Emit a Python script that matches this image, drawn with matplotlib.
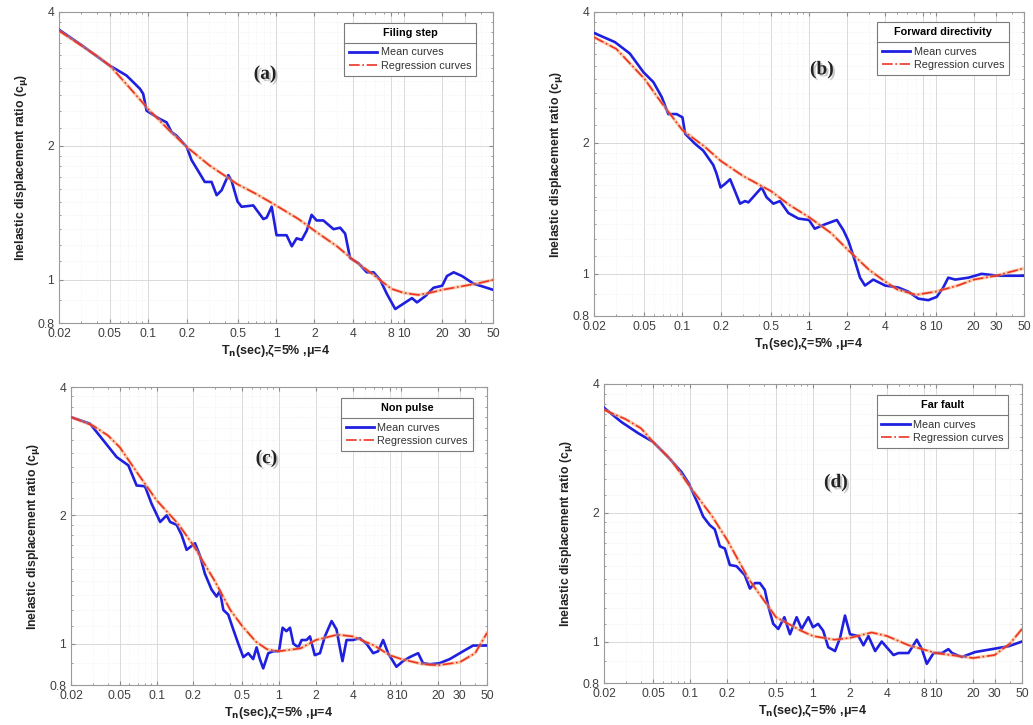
import matplotlib
matplotlib.use("Agg")
import matplotlib.pyplot as plt
import matplotlib.ticker as mticker
import matplotlib.patheffects as pe
from matplotlib.lines import Line2D

plt.rcParams['font.family'] = ['Liberation Sans', 'DejaVu Sans']
plt.rcParams['mathtext.fontset'] = 'dejavusans'

# ---------------- data ----------------
# (a) Filing step
Ta_mean = [0.02, 0.03, 0.05, 0.0675, 0.0859, 0.0912, 0.097, 0.123, 0.139, 0.152, 0.166, 0.2, 0.218,
           0.254, 0.277, 0.313, 0.343, 0.375, 0.423, 0.449, 0.5, 0.538, 0.664, 0.796, 0.845, 0.925,
           1.01, 1.21, 1.33, 1.45, 1.59, 1.74, 1.90, 2.08, 2.35, 2.82, 3.18, 3.48, 3.80, 4.42, 5.14,
           5.80, 6.54, 7.38, 8.58, 10.3, 11.6, 12.7, 14.8, 17.1, 20.0, 21.8, 24.6, 28.6, 35.3, 39.8, 50.0]
Ca_mean = [3.65, 3.37, 3.03, 2.88, 2.69, 2.62, 2.40, 2.30, 2.26, 2.15, 2.11, 1.99, 1.86,
           1.73, 1.66, 1.66, 1.55, 1.59, 1.72, 1.67, 1.50, 1.46, 1.47, 1.37, 1.38, 1.46,
           1.26, 1.26, 1.19, 1.24, 1.23, 1.29, 1.40, 1.36, 1.36, 1.30, 1.31, 1.27, 1.12, 1.09, 1.04,
           1.04, 1.00, 0.93, 0.86, 0.89, 0.91, 0.89, 0.92, 0.96, 0.97, 1.02, 1.04, 1.02, 0.98, 0.97, 0.95]
Ta_reg = [0.02, 0.025, 0.03, 0.04, 0.05, 0.07, 0.1, 0.15, 0.2, 0.3, 0.5, 0.7, 1, 1.5, 2, 3, 4, 5,
          6.5, 8, 10, 13, 16, 20, 30, 40, 50]
Ca_reg = [3.63, 3.48, 3.36, 3.18, 3.03, 2.72, 2.42, 2.15, 1.99, 1.81, 1.64, 1.56, 1.47, 1.37, 1.29,
          1.19, 1.11, 1.06, 1.00, 0.955, 0.935, 0.925, 0.935, 0.95, 0.97, 0.985, 1.00]

# (b) Forward directivity
Tb_mean = [0.02, 0.0293, 0.0384, 0.0491, 0.0589, 0.0686, 0.0773, 0.0899, 0.1, 0.105, 0.126, 0.146,
           0.175, 0.186, 0.2, 0.217, 0.238, 0.260, 0.285, 0.312, 0.332, 0.423, 0.462, 0.523, 0.590,
           0.687, 0.824, 1.0, 1.11, 1.34, 1.66, 1.87, 2.05, 2.31, 2.53, 2.77, 3.22, 4.0, 5.08, 6.10,
           7.31, 8.77, 10.2, 11.5, 12.6, 14.3, 18.2, 23.1, 31.3, 50.0]
Cb_mean = [3.58, 3.41, 3.21, 2.91, 2.76, 2.55, 2.33, 2.33, 2.29, 2.10, 1.99, 1.92,
           1.78, 1.70, 1.58, 1.61, 1.65, 1.55, 1.45, 1.47, 1.46, 1.58, 1.50, 1.45, 1.47,
           1.38, 1.34, 1.33, 1.27, 1.30, 1.33, 1.26, 1.19, 1.07, 0.98, 0.94, 0.97, 0.94, 0.93, 0.91,
           0.877, 0.87, 0.885, 0.93, 0.98, 0.97, 0.98, 1.00, 0.99, 0.99]
Tb_reg = [0.02, 0.03, 0.05, 0.07, 0.1, 0.15, 0.2, 0.3, 0.5, 0.7, 1, 1.5, 2, 3, 4, 5, 7, 10, 15, 20, 30, 50]
Cb_reg = [3.50, 3.29, 2.81, 2.45, 2.14, 1.96, 1.82, 1.68, 1.55, 1.44, 1.35, 1.24, 1.14, 1.02, 0.96,
          0.92, 0.895, 0.91, 0.94, 0.97, 0.99, 1.03]

# (c) Non pulse
Tc_mean = [0.02, 0.0286, 0.0367, 0.0472, 0.0588, 0.0687, 0.0804, 0.091, 0.107, 0.121, 0.129, 0.146,
           0.160, 0.176, 0.206, 0.226, 0.248, 0.281, 0.309, 0.329, 0.351, 0.385, 0.423, 0.465, 0.511,
           0.561, 0.615, 0.656, 0.698, 0.743, 0.817, 0.898, 1.0, 1.07, 1.15, 1.23, 1.31, 1.44, 1.53,
           1.68, 1.79, 1.96, 2.16, 2.37, 2.69, 2.95, 3.14, 3.30, 3.56, 4.0, 4.57, 5.18, 5.88, 6.46,
           7.09, 7.78, 9.10, 10.3, 11.7, 13.7, 15.0, 17.1, 20.5, 24.8, 31.9, 38.5, 50.0]
Cc_mean = [3.40, 3.28, 3.00, 2.74, 2.62, 2.35, 2.34, 2.13, 1.93, 2.00, 1.93, 1.90,
           1.80, 1.66, 1.72, 1.61, 1.46, 1.34, 1.29, 1.33, 1.20, 1.17, 1.08, 1.00, 0.93,
           0.95, 0.92, 0.98, 0.92, 0.875, 0.95, 0.96, 0.96, 1.09, 1.07, 1.09, 1.00, 0.98, 1.02,
           1.02, 1.04, 0.94, 0.95, 1.04, 1.13, 1.08, 0.98, 0.91, 1.02, 1.02, 1.03, 1.00, 0.95, 0.96,
           1.02, 0.95, 0.883, 0.91, 0.93, 0.95, 0.90, 0.895, 0.90, 0.92, 0.96, 0.99, 0.99]
Tc_reg = [0.02, 0.03, 0.04, 0.05, 0.07, 0.1, 0.15, 0.2, 0.3, 0.4, 0.5, 0.65, 0.8, 1, 1.5, 2, 3, 4, 6,
          8, 10, 15, 20, 30, 40, 50]
Cc_reg = [3.40, 3.25, 3.08, 2.89, 2.51, 2.17, 1.91, 1.70, 1.40, 1.20, 1.10, 1.01, 0.97, 0.96, 0.975,
          1.02, 1.05, 1.04, 0.99, 0.94, 0.92, 0.895, 0.89, 0.905, 0.95, 1.06]

# (d) Far fault
Td_mean = [0.02, 0.0277, 0.0379, 0.05, 0.0664, 0.0853, 0.098, 0.116, 0.128, 0.145, 0.159, 0.175,
           0.192, 0.211, 0.239, 0.279, 0.307, 0.337, 0.370, 0.406, 0.433, 0.475, 0.522, 0.585, 0.650,
           0.736, 0.809, 0.917, 1.0, 1.10, 1.21, 1.33, 1.51, 1.66, 1.82, 2.0, 2.34, 2.57, 2.82, 3.20,
           3.62, 4.51, 4.95, 5.97, 6.98, 7.67, 8.42, 9.55, 11.2, 12.6, 13.5, 16.2, 20.8, 28.5, 38.9, 50.0]
Cd_mean = [3.52, 3.26, 3.07, 2.93, 2.70, 2.49, 2.34, 2.10, 1.96, 1.87, 1.83, 1.67,
           1.65, 1.51, 1.50, 1.43, 1.33, 1.37, 1.37, 1.32, 1.21, 1.10, 1.07, 1.14, 1.04,
           1.14, 1.07, 1.14, 1.08, 1.10, 1.06, 0.97, 0.95, 1.02, 1.15, 1.04, 1.03, 0.98, 1.03, 0.95,
           1.00, 0.93, 0.94, 0.94, 1.01, 0.96, 0.887, 0.94, 0.94, 0.96, 0.94, 0.92, 0.945, 0.96, 0.975, 1.00]
Td_reg = [0.02, 0.03, 0.04, 0.05, 0.07, 0.1, 0.15, 0.2, 0.3, 0.5, 0.8, 1, 1.5, 2, 3, 4, 6, 10, 20, 30, 40, 50]
Cd_reg = [3.48, 3.31, 3.15, 2.93, 2.66, 2.30, 1.97, 1.73, 1.40, 1.14, 1.06, 1.03, 1.01, 1.02, 1.05,
          1.03, 0.98, 0.94, 0.915, 0.93, 0.99, 1.07]

panel_tags = ['(a)', '(b)', '(c)', '(d)']
legend_titles = ['Filing step', 'Forward directivity', 'Non pulse', 'Far fault']
x_ticks = [0.02, 0.05, 0.1, 0.2, 0.5, 1, 2, 4, 8, 10, 20, 30, 50]
x_tick_labels = ['0.02', '0.05', '0.1', '0.2', '0.5', '1', '2', '4', '8', '10', '20', '30', '50']
y_ticks = [0.8, 1, 2, 4]
y_tick_labels = ['0.8', '1', '2', '4']

series = [(Ta_mean, Ca_mean, Ta_reg, Ca_reg),
          (Tb_mean, Cb_mean, Tb_reg, Cb_reg),
          (Tc_mean, Cc_mean, Tc_reg, Cc_reg),
          (Td_mean, Cd_mean, Td_reg, Cd_reg)]

# ---------------- layout ----------------
W, H = 1033, 725
rects_px = [(59, 12, 493, 323), (594, 12, 1024, 316), (71, 387, 487, 685), (604, 384, 1022, 683)]
legend_anchor = [(0.961, 0.965), (0.965, 0.967), (0.966, 0.963), (0.967, 0.963)]
tag_pos = [(0.475, 0.80), (0.53, 0.81), (0.47, 0.76), (0.555, 0.67)]

fig = plt.figure(figsize=(W / 100, H / 100), dpi=100)
axes = []
legends = []
for i, (l, t, r, b) in enumerate(rects_px):
    ax = fig.add_axes([l / W, 1 - b / H, (r - l) / W, (b - t) / H])
    axes.append(ax)
    Tm, Cm, Tr, Cr = series[i]
    ax.plot(Tm, Cm, color='#1f1fe0', lw=1.9, solid_joinstyle='round', zorder=3)
    ax.plot(Tr, Cr, color='#f6a36a', lw=2.4, alpha=0.55, zorder=4)
    ax.plot(Tr, Cr, color='#ee3322', lw=1.2, ls='-.', zorder=5)
    ax.set_xscale('log')
    ax.set_yscale('log')
    ax.set_xlim(0.02, 50)
    ax.set_ylim(0.8, 4)
    ax.xaxis.set_major_locator(mticker.FixedLocator(x_ticks))
    ax.xaxis.set_major_formatter(mticker.FixedFormatter(x_tick_labels))
    ax.xaxis.set_minor_locator(mticker.LogLocator(base=10, subs=[2, 3, 4, 5, 6, 7, 8, 9]))
    ax.xaxis.set_minor_formatter(mticker.NullFormatter())
    ax.yaxis.set_major_locator(mticker.FixedLocator(y_ticks))
    ax.yaxis.set_major_formatter(mticker.FixedFormatter(y_tick_labels))
    ax.yaxis.set_minor_locator(mticker.FixedLocator(
        [0.9, 1.1, 1.2, 1.3, 1.4, 1.5, 1.6, 1.7, 1.8, 1.9, 2.2, 2.4, 2.6, 2.8, 3.0, 3.2, 3.4, 3.6, 3.8]))
    ax.yaxis.set_minor_formatter(mticker.NullFormatter())
    ax.grid(True, which='major', color='#d9d9d9', lw=0.7)
    ax.grid(True, which='minor', color='#ececec', lw=0.5, ls=':')
    ax.set_axisbelow(True)
    ax.tick_params(which='both', direction='in', top=True, right=True, colors='#8a8a8a',
                   labelcolor='#404040', labelsize=8.8)
    ax.tick_params(which='major', length=3)
    ax.tick_params(which='minor', length=1.5)
    for sp in ax.spines.values():
        sp.set_color('#9a9a9a')
        sp.set_linewidth(0.8)
    ax.set_xlabel(r'T$_\mathbf{n}$(sec),ζ=5% ,μ=4', fontsize=9, fontweight='bold',
                  color='#222222', labelpad=2)
    ax.set_ylabel(r'Inelastic displacement ratio (c$_\mathbf{\mu}$)', fontsize=8.8,
                  fontweight='bold', color='#222222', labelpad=5)
    ax.text(tag_pos[i][0], tag_pos[i][1], panel_tags[i], transform=ax.transAxes,
            fontsize=14, fontweight='bold', family=['Liberation Serif', 'DejaVu Serif'],
            color='#222222', ha='center', va='center', zorder=6,
            path_effects=[pe.withSimplePatchShadow(offset=(1.5, -1.5), shadow_rgbFace='#888888', alpha=0.45)])
    handles = [Line2D([], [], color='#1f1fe0', lw=2.0),
               Line2D([], [], color='#ee3322', lw=1.2, ls='-.')]
    leg = ax.legend(handles, ['Mean curves', 'Regression curves'], title=legend_titles[i],
                    loc='upper right', bbox_to_anchor=legend_anchor[i], borderaxespad=0,
                    fontsize=7.8, title_fontsize=7.8, fancybox=False, framealpha=1,
                    edgecolor='#7a7a7a', handlelength=2.6, handletextpad=0.3,
                    borderpad=0.45, labelspacing=0.3)
    leg.get_title().set_fontweight('bold')
    leg._legend_box.sep = 7
    leg.get_frame().set_linewidth(0.8)
    leg.set_zorder(10)
    for txt in leg.get_texts():
        txt.set_color('#333333')
    legends.append(leg)

# separator line under each legend title
fig.canvas.draw()
inv = fig.transFigure.inverted()
for leg in legends:
    fb = leg.get_frame().get_window_extent()
    tb = leg.get_title().get_window_extent()
    eb = leg.get_texts()[0].get_window_extent()
    y = 0.5 * (tb.y0 + eb.y1)
    (x0, yy), (x1, _) = inv.transform([(fb.x0, y), (fb.x1, y)])
    fig.add_artist(Line2D([x0, x1], [yy, yy], color='#7a7a7a', lw=0.8, zorder=20))

fig.savefig('out.png', dpi=100)
